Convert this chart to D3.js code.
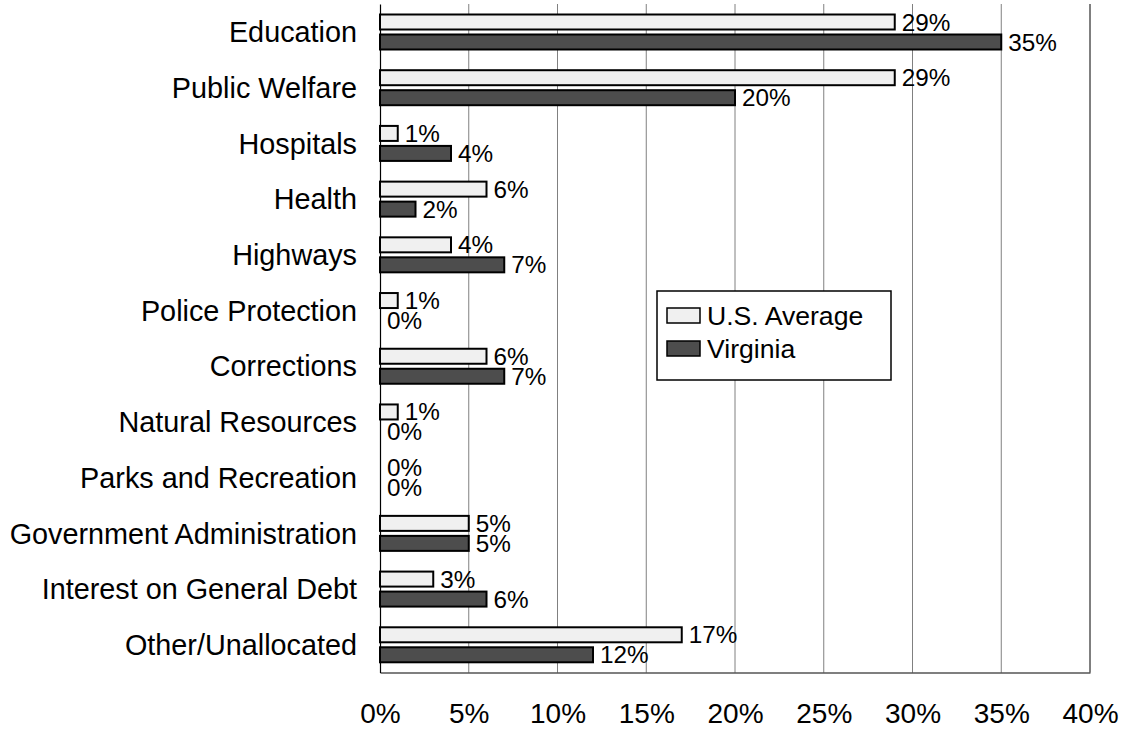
<!DOCTYPE html>
<html>
<head>
<meta charset="utf-8">
<script src="https://cdn.jsdelivr.net/npm/d3@7"></script>
<style>
  html, body { margin: 0; padding: 0; background: #fff; }
  svg { display: block; font-family: "Liberation Sans", Arial, sans-serif; }
</style>
</head>
<body>
<script>
// Spending shares by function, U.S. average vs. Virginia (percent)
const categories = [
  "Education", "Public Welfare", "Hospitals", "Health", "Highways",
  "Police Protection", "Corrections", "Natural Resources",
  "Parks and Recreation", "Government Administration",
  "Interest on General Debt", "Other/Unallocated"
];
const usAverage = [29, 29, 1, 6, 4, 1, 6, 1, 0, 5, 3, 17];
const virginia  = [35, 20, 4, 2, 7, 0, 7, 0, 0, 5, 6, 12];
const seriesNames = ["U.S. Average", "Virginia"];
const xTicks = [0, 5, 10, 15, 20, 25, 30, 35, 40];

const W = 1128, H = 731;
const plot = { left: 380, right: 1090, top: 4, bottom: 672.5 };
const colors = { "U.S. Average": "#f0f0f0", "Virginia": "#4d4d4d" };

const svg = d3.select("body").append("svg").attr("width", W).attr("height", H);

const x = d3.scaleLinear().domain([0, 40]).range([plot.left, plot.right]);
const y = d3.scaleBand().domain(categories).range([plot.top, plot.bottom]);
const ySub = d3.scaleBand().domain(seriesNames)
  .range([10.5, 45.5]).paddingInner(0.25);

// vertical gridlines
svg.append("g").selectAll("line").data(xTicks.slice(1)).join("line")
  .attr("x1", d => x(d)).attr("x2", d => x(d))
  .attr("y1", plot.top).attr("y2", plot.bottom)
  .attr("stroke", d => d === 40 ? "#000" : "#808080")
  .attr("stroke-width", 1);

// bottom axis with percent labels
const xAxis = d3.axisBottom(x).tickValues(xTicks)
  .tickFormat(d => d + "%").tickSize(0).tickPadding(0);
const gx = svg.append("g").attr("transform", `translate(0,${plot.bottom})`).call(xAxis);
gx.select(".domain").attr("stroke", "#000").attr("stroke-width", 1.2);
gx.selectAll("text").attr("font-size", 28).attr("fill", "#000")
  .attr("font-family", "Liberation Sans, Arial, sans-serif")
  .attr("dy", null).attr("y", 723 - plot.bottom);

// left axis with category labels
const yAxis = d3.axisLeft(y).tickSize(0).tickPadding(23);
const gy = svg.append("g").attr("transform", `translate(${plot.left},0)`).call(yAxis);
gy.select(".domain").attr("stroke", "#000").attr("stroke-width", 1.2);
gy.selectAll("text").attr("font-size", 28.8).attr("fill", "#000")
  .attr("font-family", "Liberation Sans, Arial, sans-serif")
  .attr("dy", "0.36em");

// bars
const rows = categories.map((c, i) => ({
  category: c,
  values: [
    { series: "U.S. Average", value: usAverage[i] },
    { series: "Virginia", value: virginia[i] }
  ]
}));

const groups = svg.append("g").selectAll("g").data(rows).join("g")
  .attr("transform", d => `translate(0,${y(d.category)})`);

groups.selectAll("rect").data(d => d.values.filter(v => v.value > 0)).join("rect")
  .attr("x", x(0))
  .attr("y", d => ySub(d.series))
  .attr("width", d => x(d.value) - x(0))
  .attr("height", ySub.bandwidth())
  .attr("fill", d => colors[d.series])
  .attr("stroke", "#000")
  .attr("stroke-width", 2);

groups.selectAll("text").data(d => d.values).join("text")
  .attr("x", d => x(d.value) + 7)
  .attr("y", d => ySub(d.series) + ySub.bandwidth() + 1)
  .attr("font-size", 24.3)
  .attr("fill", "#000")
  .text(d => d.value + "%");

// legend
const legend = svg.append("g").attr("transform", "translate(657,291)");
legend.append("rect").attr("width", 234).attr("height", 89)
  .attr("fill", "#fff").attr("stroke", "#000").attr("stroke-width", 1.5);
const items = legend.selectAll("g").data(seriesNames).join("g")
  .attr("transform", (d, i) => `translate(10,${25 + i * 33})`);
items.append("rect").attr("x", 0).attr("y", -8).attr("width", 33).attr("height", 15)
  .attr("fill", d => colors[d]).attr("stroke", "#000").attr("stroke-width", 1.5);
items.append("text").attr("x", 40).attr("y", 0).attr("dy", "0.35em")
  .attr("font-size", 26.6).attr("fill", "#000").text(d => d);
</script>
</body>
</html>
